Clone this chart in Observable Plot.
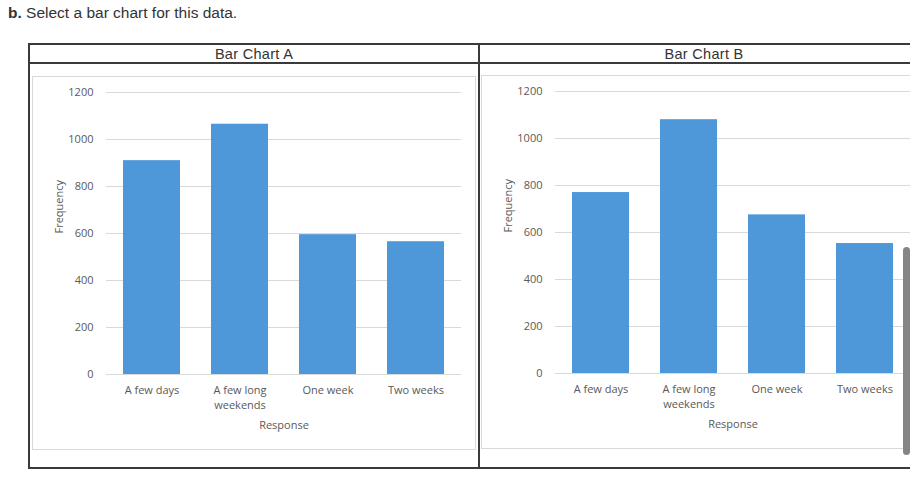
<!DOCTYPE html>
<html>
<head>
<meta charset="utf-8">
<script src="https://cdn.jsdelivr.net/npm/d3@7"></script>
<script src="https://cdn.jsdelivr.net/npm/@observablehq/plot@0.6"></script>
<style>
  html, body { margin: 0; padding: 0; width: 910px; height: 487px; overflow: hidden; background: #fff; }
  .abs { position: absolute; }
  #title { left: 8px; top: 4px; font: 15.5px "Liberation Sans", Arial, sans-serif; color: #333; white-space: nowrap; }
  .frame { border: 2px solid #3a3a3a; box-sizing: border-box; }
  .bar { background: #3a3a3a; }
  .head { font: 14.5px "Liberation Sans", Arial, sans-serif; color: #333; text-align: center; letter-spacing: 0.3px; line-height: 18px; }
  .chartbox { border: 1px solid #d9d9d9; background: #fff; }
  #scroll { left: 903px; top: 247px; width: 7px; height: 208px; background: #858585; border-radius: 4px; }
</style>
</head>
<body>
<div id="title" class="abs"><b>b.</b> Select a bar chart for this data.</div>
<div class="abs frame" style="left:28px; top:43px; width:1000px; height:426px;"></div>
<div class="abs bar" style="left:28px; top:62px; width:1000px; height:2px;"></div>
<div class="abs bar" style="left:478px; top:43px; width:2px; height:426px;"></div>
<div class="abs head" style="left:30px; top:45px; width:448px;">Bar Chart A</div>
<div class="abs head" style="left:480px; top:45px; width:448px;">Bar Chart B</div>
<div id="chartA" class="abs chartbox" style="left:32px; top:76px; width:442px; height:372px;"></div>
<div id="chartB" class="abs chartbox" style="left:481px; top:75px; width:442px; height:372px;"></div>
<div id="scroll" class="abs"></div>
<script>
const categories = ["A few days", "A few long weekends", "One week", "Two weeks"];
const tickLabels = ["A few days", "A few long\nweekends", "One week", "Two weeks"];
const valuesA = [910, 1065, 595, 565];
const valuesB = [770, 1080, 675, 553];
const yTicks = [0, 200, 400, 600, 800, 1000, 1200];
const yLabel = "Frequency";
const xLabel = "Response";

function makeChart(values) {
  const data = categories.map((c, i) => ({cat: c, value: values[i]}));
  return Plot.plot({
    width: 442,
    height: 372,
    marginLeft: 73,
    marginRight: 14,
    marginTop: 15,
    marginBottom: 75,
    style: {fontFamily: "'Open Sans', sans-serif", fontSize: "11px", color: "#595959", background: "transparent"},
    x: {domain: categories, paddingInner: 0.35, paddingOuter: 0.175, label: null},
    y: {domain: [0, 1200], label: null},
    marks: [
      Plot.gridY(yTicks, {stroke: "#d9d9d9", strokeOpacity: 1}),
      Plot.barY(data, {x: "cat", y: "value", fill: "#4e97d9"}),
      Plot.ruleY([0], {stroke: "#d9d9d9"}),
      Plot.axisY(yTicks, {tickSize: 0, tickPadding: 13, label: null, fontSize: 11, tickFormat: d => String(d)}),
      Plot.axisX({tickSize: 0, tickPadding: 9, label: null, fontSize: 11, lineHeight: 1.35,
        tickFormat: d => tickLabels[categories.indexOf(d)]}),
      Plot.text([yLabel], {text: d => d, frameAnchor: "left", rotate: -90, dx: -47, fontSize: 11, fill: "#595959"}),
      Plot.text([xLabel], {text: d => d, frameAnchor: "bottom", dy: 54, fontSize: 11, fill: "#595959"})
    ]
  });
}
document.getElementById("chartA").append(makeChart(valuesA));
document.getElementById("chartB").append(makeChart(valuesB));
</script>
</body>
</html>
